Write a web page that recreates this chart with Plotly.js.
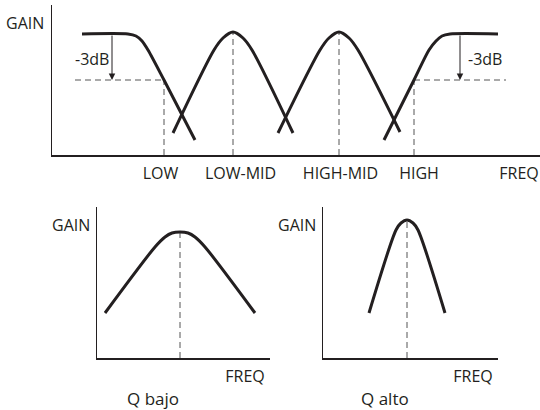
<!DOCTYPE html>
<html>
<head>
<meta charset="utf-8">
<script src="https://cdn.plot.ly/plotly-3.0.1.min.js"></script>
<style>html,body{margin:0;padding:0;background:#fff}#chart{width:540px;height:410px}</style>
</head>
<body>
<div id="chart"></div>
<script>
// ---- Top chart: 4-band EQ responses (freq units, gain units) ----
const lowShelfFreq  = [30, 76, 84, 90, 96, 112, 143];
const lowShelfGain  = [121, 121, 119, 114, 105, 75, 15];
const lowMidFreq    = [121, 162, 171, 181, 191, 200, 241];
const lowMidGain    = [22, 105, 117, 123, 117, 105, 22];
const highMidFreq   = [226, 268, 277, 287, 297, 306, 348];
const highMidGain   = [22, 105, 117, 123, 117, 105, 23];
const highShelfFreq = [332, 362, 377, 384, 390, 398, 446];
const highShelfGain = [15, 75, 105, 114, 119, 121, 121];

const bandFreqs   = [112, 181, 287, 362];      // LOW, LOW-MID, HIGH-MID, HIGH
const bandLevels  = [75, 123, 123, 75];        // top of each dashed marker
const minus3dBLevel = 75;
const shelfLevel    = 121;
const leftRefLine   = [23, 112];
const rightRefLine  = [362, 454];
const arrowFreqs    = [60, 408];
const dbLabelFreqs  = [40, 433];
const dbLabelGain   = 96;

const topTickVals = [108.5, 188.5, 288.5, 367, 467];
const topTickText = ['LOW', 'LOW-MID', 'HIGH-MID', 'HIGH', 'FREQ'];

// ---- Bottom-left: low Q ----
const lowQFreq = [8, 58, 68, 75, 83, 91, 98, 108, 158];
const lowQGain = [45, 111, 121, 125, 126, 125, 121, 111, 45];
const lowQCenter = 83, lowQPeak = 126;

// ---- Bottom-right: high Q ----
const highQFreq = [46, 73, 78, 84, 90, 95, 122];
const highQGain = [45, 128, 135, 138, 135, 128, 45];
const highQCenter = 84, highQPeak = 138;

const ink = '#231f20';
const dashCol = '#555555';
const FONT = 'Open Sans, Noto Sans, sans-serif';
const FS = 16;

function curve(x, y, xa, ya) {
  return {x: x, y: y, xaxis: xa, yaxis: ya, mode: 'lines', type: 'scatter',
    line: {color: ink, width: 3, shape: 'spline', smoothing: 0.8}, hoverinfo: 'skip'};
}
function dashed(x, y, xa, ya) {
  return {x: x, y: y, xaxis: xa, yaxis: ya, mode: 'lines', type: 'scatter',
    line: {color: dashCol, width: 1, dash: '6px,4px'}, hoverinfo: 'skip'};
}

const traces = [];
bandFreqs.forEach((f, i) => traces.push(dashed([f, f], [0, bandLevels[i]], 'x', 'y')));
traces.push(dashed(leftRefLine, [minus3dBLevel, minus3dBLevel], 'x', 'y'));
traces.push(dashed(rightRefLine, [minus3dBLevel, minus3dBLevel], 'x', 'y'));
traces.push(dashed([lowQCenter, lowQCenter], [0, lowQPeak], 'x2', 'y2'));
traces.push(dashed([highQCenter, highQCenter], [0, highQPeak], 'x3', 'y3'));
traces.push(curve(lowShelfFreq, lowShelfGain, 'x', 'y'));
traces.push(curve(lowMidFreq, lowMidGain, 'x', 'y'));
traces.push(curve(highMidFreq, highMidGain, 'x', 'y'));
traces.push(curve(highShelfFreq, highShelfGain, 'x', 'y'));
traces.push(curve(lowQFreq, lowQGain, 'x2', 'y2'));
traces.push(curve(highQFreq, highQGain, 'x3', 'y3'));

function xAxis(domain, range, tickvals, ticktext, anchor) {
  return {domain: domain, range: range, anchor: anchor, showgrid: false, zeroline: false,
    showline: true, linecolor: ink, linewidth: 1.5, ticks: '',
    tickmode: 'array', tickvals: tickvals, ticktext: ticktext,
    tickfont: {family: FONT, size: FS, color: ink}, ticklabelstandoff: 3, fixedrange: true};
}
function yAxis(domain, range, anchor) {
  return {domain: domain, range: range, anchor: anchor, showgrid: false, zeroline: false,
    showline: true, linecolor: ink, linewidth: 1.5, ticks: '', showticklabels: false, fixedrange: true};
}

const annotations = [];
const txt = (text, x, y, xref, yref, xanchor, size, xshift) => annotations.push({
  text: text, x: x, y: y, xref: xref, yref: yref, xanchor: xanchor || 'center', yanchor: 'middle',
  xshift: xshift || 0, showarrow: false, font: {family: FONT, size: size || FS, color: ink}});

// GAIN labels
txt('GAIN', 0, 0.88, 'x domain', 'y domain', 'right', FS, -6);
txt('GAIN', 0, 0.88, 'x2 domain', 'y2 domain', 'right', FS, -5);
txt('GAIN', 0, 0.88, 'x3 domain', 'y3 domain', 'right', FS, -5);
// -3dB labels
txt('-3dB', dbLabelFreqs[0], dbLabelGain, 'x', 'y');
txt('-3dB', dbLabelFreqs[1], dbLabelGain, 'x', 'y');
// arrows
arrowFreqs.forEach(f => annotations.push({
  x: f, y: minus3dBLevel, ax: f, ay: shelfLevel, xref: 'x', yref: 'y', axref: 'x', ayref: 'y',
  text: '', showarrow: true, arrowhead: 2, arrowsize: 1.3, arrowwidth: 1, arrowcolor: ink, standoff: 0}));
// Q labels
txt('Q bajo', 153 / 540, 1 - 398 / 410, 'paper', 'paper', 'center', 17);
txt('Q alto', 385 / 540, 1 - 398 / 410, 'paper', 'paper', 'center', 17);

const layout = {
  width: 540, height: 410, margin: {l: 0, r: 0, t: 0, b: 0},
  paper_bgcolor: '#ffffff', plot_bgcolor: 'rgba(0,0,0,0)', showlegend: false,
  xaxis: xAxis([52/540, 1], [0, 488], topTickVals, topTickText, 'y'),
  yaxis: yAxis([1 - 155/410, 1 - 5/410], [0, 150], 'x'),
  xaxis2: xAxis([97/540, 270/540], [0, 173], [148], ['FREQ'], 'y2'),
  yaxis2: yAxis([1 - 358/410, 1 - 207/410], [0, 151], 'x2'),
  xaxis3: xAxis([323/540, 498/540], [0, 175], [150], ['FREQ'], 'y3'),
  yaxis3: yAxis([1 - 358/410, 1 - 207/410], [0, 151], 'x3'),
  annotations: annotations
};

Plotly.newPlot('chart', traces, layout, {staticPlot: true, displayModeBar: false});
</script>
</body>
</html>
